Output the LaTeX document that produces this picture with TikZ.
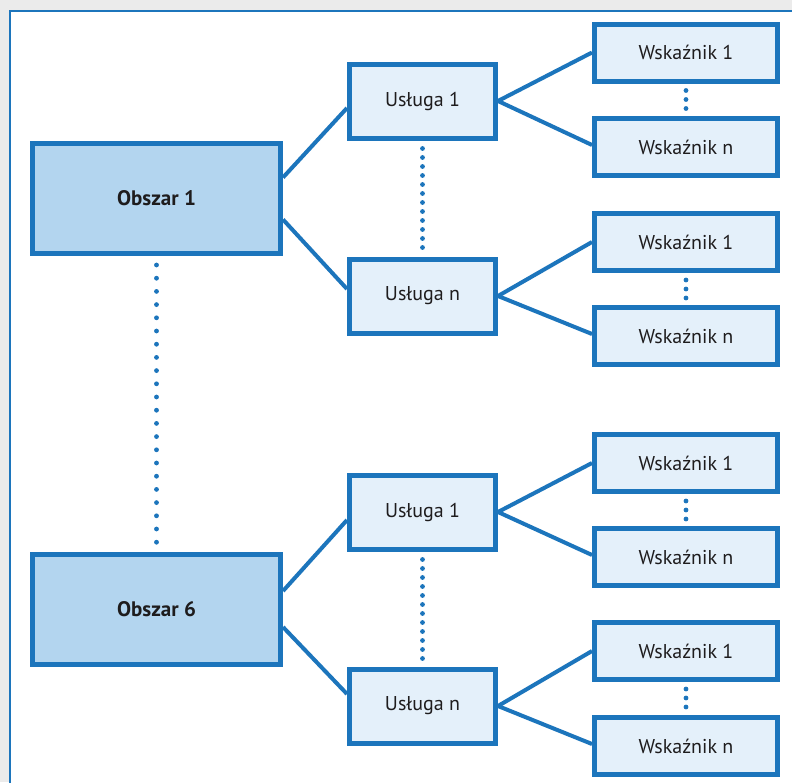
\documentclass[tikz,border=0pt]{standalone}
\usepackage{fontspec}
\setmainfont{PT Sans}
\definecolor{bl}{HTML}{1C75BC}
\definecolor{obfill}{HTML}{B3D5EF}
\definecolor{lfill}{HTML}{E4F0FA}
\definecolor{txt}{HTML}{1E1C1D}
\definecolor{outbg}{HTML}{EBEBEB}
\tikzset{
  boxbase/.style={draw=bl, line width=5pt, inner sep=0pt, text=txt, font=\fontsize{20}{23}\selectfont},
  obsz/.style={boxbase, fill=obfill, minimum width=248pt, minimum height=110pt, font=\fontsize{21}{24}\selectfont\bfseries},
  usl/.style={boxbase, fill=lfill, minimum width=146pt, minimum height=74pt},
  wsk/.style={boxbase, fill=lfill, minimum width=183pt, minimum height=57pt},
  link/.style={draw=bl, line width=4pt},
  dotsline/.style={draw=bl, line width=4.8pt, line cap=round, dash pattern=on 0pt off 9pt},
  longdots/.style={draw=bl, line width=4.8pt, line cap=round, dash pattern=on 0pt off 13.2pt},
}
\begin{document}
\begin{tikzpicture}[x=1pt,y=-1pt]
\useasboundingbox (0,0) rectangle (792,782);
\clip (0,0) rectangle (792,782);
\fill[outbg] (0,0) rectangle (792,782);
\draw[bl, line width=2pt, fill=white] (10,11) rectangle (810,800);

% nodes
\node[obsz] (o1) at (156.5,198.5) {Obszar 1};
\node[obsz] (o6) at (156.5,609) {Obszar 6};

\node[usl] (u11) at (422.5,101) {Usługa 1};
\node[usl] (u1n) at (422.5,296) {Usługa n};
\node[usl] (u61) at (422.5,512) {Usługa 1};
\node[usl] (u6n) at (422.5,706) {Usługa n};

\node[wsk] (w111) at (686,52.5) {Wskaźnik 1};
\node[wsk] (w11n) at (686,147) {Wskaźnik n};
\node[wsk] (w1n1) at (686,242) {Wskaźnik 1};
\node[wsk] (w1nn) at (686,336) {Wskaźnik n};
\node[wsk] (w611) at (686,463) {Wskaźnik 1};
\node[wsk] (w61n) at (686,557) {Wskaźnik n};
\node[wsk] (w6n1) at (686,651) {Wskaźnik 1};
\node[wsk] (w6nn) at (686,746) {Wskaźnik n};

% connectors
\draw[link] ([yshift=21pt]o1.east) -- ([yshift=-7pt]u11.west);
\draw[link] ([yshift=-21pt]o1.east) -- ([yshift=7pt]u1n.west);
\draw[link] ([yshift=18pt]o6.east) -- ([yshift=-8pt]u61.west);
\draw[link] ([yshift=-18pt]o6.east) -- ([yshift=12pt]u6n.west);

\draw[link] (u11.east) -- (w111.west);
\draw[link] (u11.east) -- ([yshift=2pt]w11n.west);
\draw[link] (u1n.east) -- (w1n1.west);
\draw[link] (u1n.east) -- ([yshift=2pt]w1nn.west);
\draw[link] (u61.east) -- (w611.west);
\draw[link] (u61.east) -- ([yshift=2pt]w61n.west);
\draw[link] (u6n.east) -- (w6n1.west);
\draw[link] (u6n.east) -- ([yshift=2pt]w6nn.west);

% dotted links
\draw[longdots] ([yshift=-9pt]o1.south) -- ([yshift=7pt]o6.north);
\draw[dotsline] ([yshift=-8pt]u11.south) -- ([yshift=6pt]u1n.north);
\draw[dotsline] ([yshift=-8pt]u61.south) -- ([yshift=6pt]u6n.north);
\draw[dotsline] ([yshift=-7pt]w111.south) -- ([yshift=6pt]w11n.north);
\draw[dotsline] ([yshift=-7pt]w1n1.south) -- ([yshift=6pt]w1nn.north);
\draw[dotsline] ([yshift=-7pt]w611.south) -- ([yshift=6pt]w61n.north);
\draw[dotsline] ([yshift=-7pt]w6n1.south) -- ([yshift=6pt]w6nn.north);
\end{tikzpicture}
\end{document}
